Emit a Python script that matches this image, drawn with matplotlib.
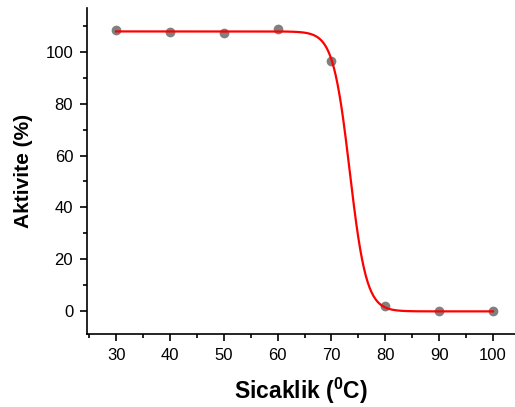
import numpy as np
import matplotlib
matplotlib.use("Agg")
import matplotlib.pyplot as plt
from matplotlib.ticker import MultipleLocator

plt.rcParams["font.family"] = ["Liberation Sans", "DejaVu Sans"]
plt.rcParams["mathtext.fontset"] = "custom"
plt.rcParams["mathtext.rm"] = "Liberation Sans"
plt.rcParams["mathtext.bf"] = "Liberation Sans:bold"

# measured activity vs temperature
temp = [30, 40, 50, 60, 70, 80, 90, 100]
activity = [108.4, 107.7, 107.5, 109.0, 96.7, 1.7, 0.0, 0.0]

# Boltzmann fit parameters (A1, A2, x0, dx)
A1, A2, X0, DX = 108.0, -0.2, 73.4, 1.55

x_fit = np.linspace(30, 100, 600)
y_fit = A2 + (A1 - A2) / (1 + np.exp((x_fit - X0) / DX))

fig = plt.figure(figsize=(5.15, 4.07), dpi=100)
ax = fig.add_axes([0.169, 0.179, 0.831, 0.801])

ax.plot(temp, activity, "o", color="#808080", markersize=6, zorder=2)
ax.plot(x_fit, y_fit, color="red", linewidth=1.6, zorder=3)

ax.set_xlim(24.6, 104.1)
ax.set_ylim(-9, 117)
ax.xaxis.set_major_locator(MultipleLocator(10))
ax.xaxis.set_minor_locator(MultipleLocator(5))
ax.yaxis.set_major_locator(MultipleLocator(20))
ax.yaxis.set_minor_locator(MultipleLocator(10))

for side in ("top", "right"):
    ax.spines[side].set_visible(False)
for side in ("left", "bottom"):
    ax.spines[side].set_linewidth(1.2)

ax.tick_params(which="major", direction="out", length=5, width=1.2, labelsize=12, pad=5)
ax.tick_params(which="minor", direction="out", length=3, width=1.2)

ax.set_xlabel(r"Sicaklik ($^{\mathbf{0}}$C)", fontsize=16.5, fontweight="bold", labelpad=9)
ax.set_ylabel("Aktivite (%)", fontsize=15, fontweight="bold", labelpad=9)

fig.savefig("out.png", dpi=100)
